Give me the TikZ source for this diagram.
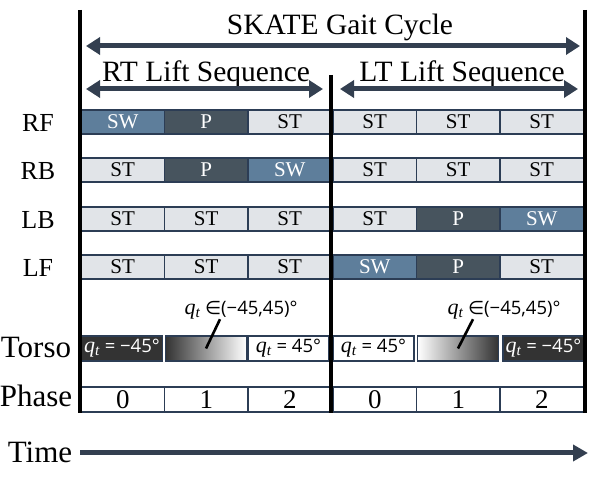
\documentclass[tikz,border=0pt]{standalone}
\usepackage{fontspec}
\setmainfont{Liberation Serif}
\setsansfont{Open Sans}
\newfontfamily\gaitsym{DejaVu Sans}
\usetikzlibrary{arrows.meta}
\definecolor{gaitnavy}{HTML}{333F50}
\definecolor{gaitedge}{HTML}{2C3D55}
\definecolor{gaitsw}{HTML}{5E7E9B}
\definecolor{gaitp}{HTML}{47545E}
\definecolor{gaitst}{HTML}{E1E4E8}
\definecolor{gaitdark}{HTML}{333333}
\newcommand{\torsoq}{{\rmfamily\itshape\fontsize{22}{22}\selectfont q\textsubscript{t}}}

\begin{document}
\begin{tikzpicture}[x=1pt, y=-1pt,
  cell/.style={draw=gaitedge, line width=1.4pt, minimum width=83.5pt, minimum height=24pt, inner sep=0pt, font=\fontsize{21}{21}\selectfont},
  swcell/.style={cell, fill=gaitsw, text=white},
  pcell/.style={cell, fill=gaitp, text=white},
  stcell/.style={cell, fill=gaitst},
  torso/.style={draw=gaitedge, line width=1.2pt, minimum width=81pt, minimum height=25pt, inner sep=0pt, font=\sffamily\fontsize{18.5}{18.5}\selectfont},
  phasecell/.style={cell, fill=white, minimum height=25pt, font=\fontsize{27}{27}\selectfont},
  rowlabel/.style={font=\fontsize{26}{26}\selectfont, inner sep=0pt, anchor=base},
  biglabel/.style={font=\fontsize{31}{31}\selectfont, inner sep=0pt, anchor=base},
  title/.style={font=\fontsize{29.5}{29.5}\selectfont, inner sep=0pt, anchor=base},
  anno/.style={font=\sffamily\fontsize{18.5}{18.5}\selectfont, inner sep=0pt},
  span/.style={{Triangle[length=14pt,width=17pt]}-{Triangle[length=14pt,width=17pt]}, line width=5pt, draw=gaitnavy},
  timeline/.style={-{Triangle[length=15pt,width=16pt]}, line width=5pt, draw=gaitnavy},
  bar/.style={line width=4pt, draw=black},
  pointer/.style={line width=2.6pt, draw=black}
]
\useasboundingbox (0,0) rectangle (598,486);

% Titles and spans
\node[title] (gait) at (340,35) {SKATE Gait Cycle};
\node[title] (rtseq) at (206,82) {RT Lift Sequence};
\node[title] (ltseq) at (462,82) {LT Lift Sequence};
\coordinate (gaitL) at (86,46);
\coordinate (gaitR) at (580,46);
\coordinate (rtL) at (86,89);
\coordinate (rtR) at (323,89);
\coordinate (ltL) at (340,89);
\coordinate (ltR) at (578,89);
\draw[span] (gaitL) -- (gaitR);
\draw[span] (rtL) -- (rtR);
\draw[span] (ltL) -- (ltR);

% Row labels
\node[rowlabel] (lrf) at (38,131.5) {RF};
\node[rowlabel] (lrb) at (38,179.5) {RB};
\node[rowlabel] (llb) at (38,228.5) {LB};
\node[rowlabel] (llf) at (38,276.5) {LF};
\node[biglabel] (ltorso) at (36,358) {Torso};
\node[biglabel] (lphase) at (36,407) {Phase};
\node[biglabel] (ltime) at (40,463) {Time};

% RF
\node[swcell] (rf1) at (122.75,122) {SW};
\node[pcell] (rf2) at (206.25,122) {P};
\node[stcell] (rf3) at (289.75,122) {ST};
\node[stcell] (rf4) at (374.75,122) {ST};
\node[stcell] (rf5) at (458.25,122) {ST};
\node[stcell] (rf6) at (541.75,122) {ST};

% RB
\node[stcell] (rb1) at (122.75,170) {ST};
\node[pcell] (rb2) at (206.25,170) {P};
\node[swcell] (rb3) at (289.75,170) {SW};
\node[stcell] (rb4) at (374.75,170) {ST};
\node[stcell] (rb5) at (458.25,170) {ST};
\node[stcell] (rb6) at (541.75,170) {ST};

% LB
\node[stcell] (lb1) at (122.75,219) {ST};
\node[stcell] (lb2) at (206.25,219) {ST};
\node[stcell] (lb3) at (289.75,219) {ST};
\node[stcell] (lb4) at (374.75,219) {ST};
\node[pcell] (lb5) at (458.25,219) {P};
\node[swcell] (lb6) at (541.75,219) {SW};

% LF
\node[stcell] (lf1) at (122.75,267) {ST};
\node[stcell] (lf2) at (206.25,267) {ST};
\node[stcell] (lf3) at (289.75,267) {ST};
\node[swcell] (lf4) at (374.75,267) {SW};
\node[pcell] (lf5) at (458.25,267) {P};
\node[stcell] (lf6) at (541.75,267) {ST};

% Torso
\node[torso, fill=gaitdark, text=white] (tq1) at (122,348.5) {\torsoq\ = −45°};
\node[torso, left color=gaitdark, right color=white] (tq2) at (206,348.5) {};
\node[torso, fill=white] (tq3) at (288.5,348.5) {\torsoq\ = 45°};
\node[torso, fill=white] (tq4) at (373.5,348.5) {\torsoq\ = 45°};
\node[torso, left color=white, right color=gaitdark] (tq5) at (458,348.5) {};
\node[torso, fill=gaitdark, text=white] (tq6) at (543.5,348.5) {\torsoq\ = −45°};

\node[anno] (qa1) at (241,310) {\torsoq\ {\gaitsym ∈}(−45,45)°};
\node[anno] (qa2) at (504,310) {\torsoq\ {\gaitsym ∈}(−45,45)°};
\draw[pointer] ([xshift=-21pt]qa1.south) -- (tq2.center);
\draw[pointer] ([xshift=-31pt]qa2.south) -- (tq5.center);

% Phase
\node[phasecell] (ph1) at (122.75,399.5) {0};
\node[phasecell] (ph2) at (206.25,399.5) {1};
\node[phasecell] (ph3) at (289.75,399.5) {2};
\node[phasecell] (ph4) at (374.75,399.5) {0};
\node[phasecell] (ph5) at (458.25,399.5) {1};
\node[phasecell] (ph6) at (541.75,399.5) {2};

% Separators
\draw[bar] (80,10) -- (80,413);
\draw[bar] (331,75) -- (331,413);
\draw[bar] (585,10) -- (585,413);

% Time axis
\coordinate (timeL) at (80,453);
\coordinate (timeR) at (588,453);
\draw[timeline] (timeL) -- (timeR);

\end{tikzpicture}
\end{document}
